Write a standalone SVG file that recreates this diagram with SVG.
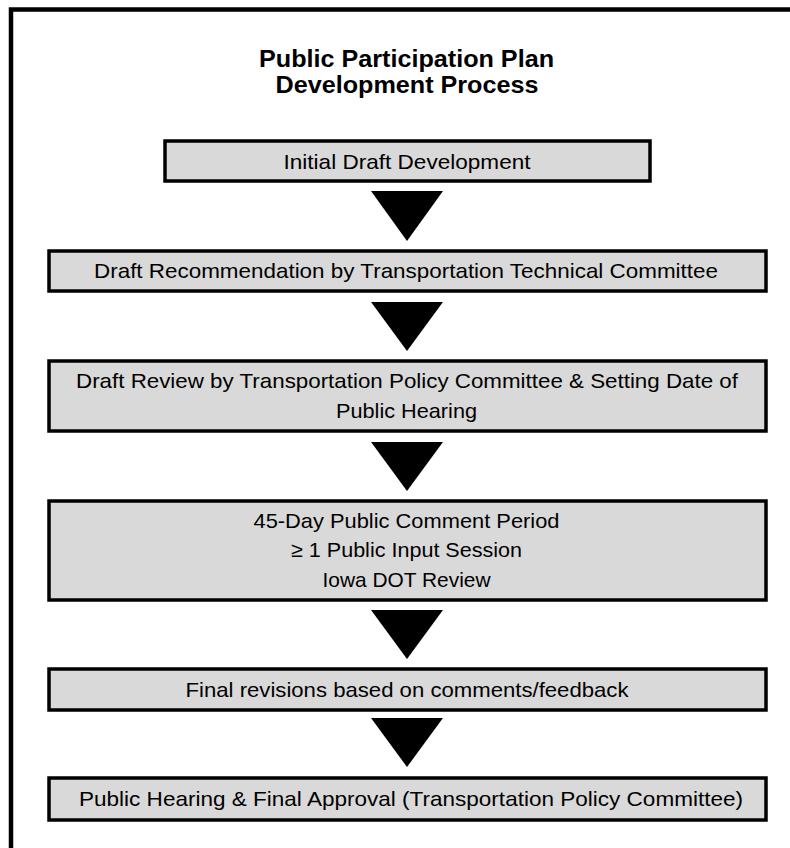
<svg xmlns="http://www.w3.org/2000/svg" width="790" height="848" viewBox="0 0 790 848">
<style>
.box{fill:#d9d9d9;stroke:#000;stroke-width:3.5}
.t{font-family:"Liberation Sans",Arial,sans-serif;font-size:21px;fill:#000;text-anchor:middle}
.title{font-family:"Liberation Sans",Arial,sans-serif;font-size:24px;font-weight:bold;fill:#000;text-anchor:middle}
.arrow{fill:#000}
</style>
<rect width="790" height="848" fill="#fff"/>
<path d="M11,850 V9.5 H792" fill="none" stroke="#000" stroke-width="4.5"/>
<g id="title">
<text class="title" x="406.5" y="67" textLength="295" lengthAdjust="spacingAndGlyphs">Public Participation Plan</text>
<text class="title" x="407" y="93" textLength="263" lengthAdjust="spacingAndGlyphs">Development Process</text>
</g>
<g id="node1">
<rect class="box" x="165" y="141" width="485" height="40"/>
<text class="t" x="407" y="169" textLength="247" lengthAdjust="spacingAndGlyphs">Initial Draft Development</text>
</g>
<g id="node2">
<rect class="box" x="49" y="251" width="717" height="40"/>
<text class="t" x="406" y="278" textLength="624" lengthAdjust="spacingAndGlyphs">Draft Recommendation by Transportation Technical Committee</text>
</g>
<g id="node3">
<rect class="box" x="49" y="361" width="717" height="70"/>
<text class="t" x="407" y="388" textLength="662" lengthAdjust="spacingAndGlyphs">Draft Review by Transportation Policy Committee &amp; Setting Date of</text>
<text class="t" x="406.5" y="418" textLength="141" lengthAdjust="spacingAndGlyphs">Public Hearing</text>
</g>
<g id="node4">
<rect class="box" x="49" y="501" width="717" height="99"/>
<text class="t" x="406.5" y="528" textLength="306" lengthAdjust="spacingAndGlyphs">45-Day Public Comment Period</text>
<text class="t" x="406.5" y="557" textLength="231" lengthAdjust="spacingAndGlyphs">≥ 1 Public Input Session</text>
<text class="t" x="406.5" y="587" textLength="168" lengthAdjust="spacingAndGlyphs">Iowa DOT Review</text>
</g>
<g id="node5">
<rect class="box" x="49" y="669" width="717" height="41"/>
<text class="t" x="407" y="697" textLength="443" lengthAdjust="spacingAndGlyphs">Final revisions based on comments/feedback</text>
</g>
<g id="node6">
<rect class="box" x="49" y="778" width="717" height="42"/>
<text class="t" x="411" y="806" textLength="664" lengthAdjust="spacingAndGlyphs">Public Hearing &amp; Final Approval (Transportation Policy Committee)</text>
</g>
<g id="connectors">
<polygon class="arrow" points="371,191 443,191 407,241"/>
<polygon class="arrow" points="371,302 443,302 407,351"/>
<polygon class="arrow" points="371,442 443,442 407,491"/>
<polygon class="arrow" points="371,610 443,610 407,659"/>
<polygon class="arrow" points="371,718 443,718 407,767"/>
</g>
</svg>
